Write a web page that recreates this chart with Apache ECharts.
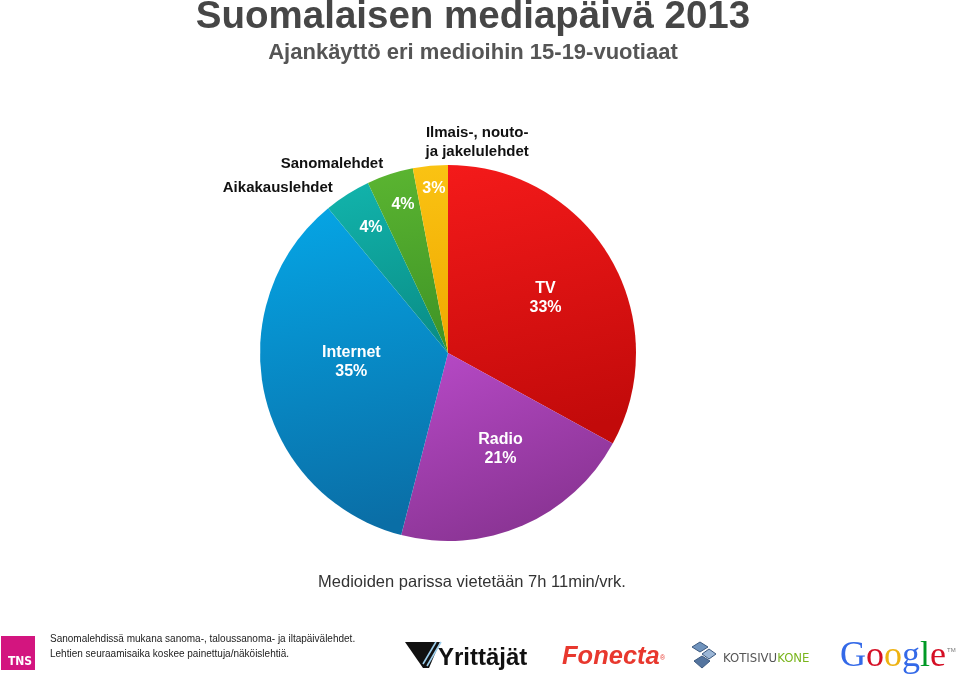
<!DOCTYPE html>
<html>
<head>
<meta charset="utf-8">
<script src="https://cdn.jsdelivr.net/npm/echarts@6/dist/echarts.min.js"></script>
<style>html,body{margin:0;padding:0;background:#fff;}#c{width:960px;height:683px;}</style>
</head>
<body>
<div id="c"></div>
<script>
// ---- data ----
var categories = ['TV', 'Radio', 'Internet', 'Aikakauslehdet', 'Sanomalehdet', 'Ilmais-, nouto-\nja jakelulehdet'];
var values = [33, 21, 35, 4, 4, 3];
var titleText = 'Suomalaisen mediapäivä 2013';
var subtitleText = 'Ajankäyttö eri medioihin 15-19-vuotiaat';
var totalText = 'Medioiden parissa vietetään 7h 11min/vrk.';
var footnotes = ['Sanomalehdissä mukana sanoma-, taloussanoma- ja iltapäivälehdet.', 'Lehtien seuraamisaika koskee painettuja/näköislehtiä.'];

// ---- styles ----
var topColors = ['#f41a1a', '#b84ac8', '#05a6e6', '#12b4ac', '#5bb531', '#fac313'];
var bottomColors = ['#c20a0a', '#8c3596', '#0a6ea6', '#0a8f88', '#3f9426', '#f0a800'];
var bigSlices = [0, 1, 2];
var insideShift = [[14, -6], [14, 7], [-2, -12], [-25, -44], [-15, -56], [-5, -68]];
var outsideShift = [null, null, null, [-3, 4], [2, 1], [53, -12]];

var FONT = '"Liberation Sans", Arial, sans-serif';

var chart = echarts.init(document.getElementById('c'), null, {renderer: 'canvas'});

var innerData = categories.map(function (name, i) {
  return {
    name: name,
    value: values[i],
    itemStyle: {
      color: {type: 'linear', x: 0, y: 0, x2: 0.35, y2: 1,
        colorStops: [{offset: 0, color: topColors[i]}, {offset: 1, color: bottomColors[i]}]}
    },
    label: {
      formatter: bigSlices.indexOf(i) >= 0 ? '{b}\n{c}%' : '{c}%'
    }
  };
});

var outerData = categories.map(function (name, i) {
  return {
    name: name,
    value: values[i],
    label: {show: bigSlices.indexOf(i) < 0}
  };
});

var option = {
  animation: false,
  backgroundColor: '#ffffff',
  series: [
    {
      type: 'pie',
      center: [448, 353],
      radius: [0, 188],
      startAngle: 90,
      clockwise: true,
      avoidLabelOverlap: false,
      silent: true,
      label: {
        show: true,
        position: 'inside',
        color: '#ffffff',
        fontFamily: FONT,
        fontWeight: 'bold',
        fontSize: 16,
        lineHeight: 19,
        align: 'center'
      },
      labelLine: {show: false},
      labelLayout: function (p) {
        var s = insideShift[p.dataIndex];
        return {dx: s[0], dy: s[1]};
      },
      itemStyle: {borderWidth: 0},
      data: innerData
    },
    {
      type: 'pie',
      center: [448, 353],
      radius: [0, 188],
      startAngle: 90,
      clockwise: true,
      avoidLabelOverlap: false,
      silent: true,
      itemStyle: {color: 'rgba(0,0,0,0)', borderWidth: 0},
      label: {
        show: true,
        position: 'outside',
        color: '#111111',
        fontFamily: FONT,
        fontWeight: 'bold',
        fontSize: 15,
        lineHeight: 19,
        formatter: '{b}'
      },
      labelLine: {show: false, length: 12, length2: 0},
      labelLayout: function (p) {
        var s = outsideShift[p.dataIndex];
        if (!s) return {};
        var r = {dx: s[0], dy: s[1]};
        if (p.dataIndex === 5) { r.align = 'center'; }
        return r;
      },
      data: outerData
    }
  ],
  graphic: [
    {type: 'text', x: 473, y: 17, style: {text: titleText, font: 'bold 38.5px ' + FONT, fill: '#464646', align: 'center', verticalAlign: 'middle'}},
    {type: 'text', x: 473, y: 53, style: {text: subtitleText, font: 'bold 22px ' + FONT, fill: '#555555', align: 'center', verticalAlign: 'middle'}},
    {type: 'text', x: 472, y: 582, style: {text: totalText, font: '16.5px ' + FONT, fill: '#333333', align: 'center', verticalAlign: 'middle'}},
    // TNS logo
    {type: 'rect', shape: {x: 1, y: 636, width: 34, height: 34}, style: {fill: '#d3157f'}},
    {type: 'text', x: 20, y: 662, style: {text: 'TNS', font: 'bold 12px "DejaVu Sans Condensed", ' + FONT, fill: '#ffffff', align: 'center', verticalAlign: 'middle'}},
    {type: 'text', x: 50, y: 639, style: {text: footnotes[0], font: '10px ' + FONT, fill: '#222222', align: 'left', verticalAlign: 'middle'}},
    {type: 'text', x: 50, y: 654, style: {text: footnotes[1], font: '10px ' + FONT, fill: '#222222', align: 'left', verticalAlign: 'middle'}},
    // Yrittäjät logo
    {type: 'polygon', shape: {points: [[405, 642], [440, 642], [429, 668], [423, 668]]}, style: {fill: '#111111'}},
    {type: 'line', shape: {x1: 423, y1: 664, x2: 436, y2: 642}, style: {stroke: '#9fd0ee', lineWidth: 1.6}},
    {type: 'line', shape: {x1: 427, y1: 666, x2: 441, y2: 642}, style: {stroke: '#9fd0ee', lineWidth: 1.6}},
    {type: 'text', x: 438, y: 658, style: {text: 'Yrittäjät', font: 'bold 24px ' + FONT, fill: '#111111', align: 'left', verticalAlign: 'middle'}},
    // Fonecta logo
    {type: 'text', x: 562, y: 657, style: {text: 'Fonecta', font: 'italic bold 25.5px ' + FONT, fill: '#e8382e', align: 'left', verticalAlign: 'middle'}},
    {type: 'text', x: 660, y: 658, style: {text: '®', font: '7px ' + FONT, fill: '#e8382e', align: 'left', verticalAlign: 'middle'}},
    // Kotisivukone logo
    {type: 'polygon', shape: {points: [[692, 647], [700, 642], [708, 647], [700, 652]]}, style: {fill: '#6f93bd', stroke: '#3d5a80', lineWidth: 1}},
    {type: 'polygon', shape: {points: [[702, 654], [709, 649], [716, 654], [709, 659]]}, style: {fill: '#9bb6d6', stroke: '#3d5a80', lineWidth: 1}},
    {type: 'polygon', shape: {points: [[694, 661], [702, 656], [710, 661], [702, 668]]}, style: {fill: '#54749e', stroke: '#3d5a80', lineWidth: 1}},
    {type: 'text', x: 723, y: 659, style: {
      text: '{a|KOTISIVU}{b|KONE}', align: 'left', verticalAlign: 'middle',
      rich: {
        a: {font: '13px "DejaVu Sans Condensed", ' + FONT, fill: '#555555'},
        b: {font: '13px "DejaVu Sans Condensed", ' + FONT, fill: '#7ab51d'}
      }
    }},
    // Google logo
    {type: 'text', x: 840, y: 657, style: {
      text: '{b|G}{r|o}{y|o}{b|g}{g|l}{r|e}', align: 'left', verticalAlign: 'middle',
      rich: {
        b: {font: '36px "Liberation Serif", serif', fill: '#3369e8'},
        r: {font: '36px "Liberation Serif", serif', fill: '#d50f25'},
        y: {font: '36px "Liberation Serif", serif', fill: '#eeb211'},
        g: {font: '36px "Liberation Serif", serif', fill: '#009925'}
      }
    }},
    {type: 'text', x: 947, y: 650, style: {text: 'TM', font: '6px ' + FONT, fill: '#777777', align: 'left', verticalAlign: 'middle'}}
  ]
};
chart.setOption(option);
</script>
</body>
</html>
